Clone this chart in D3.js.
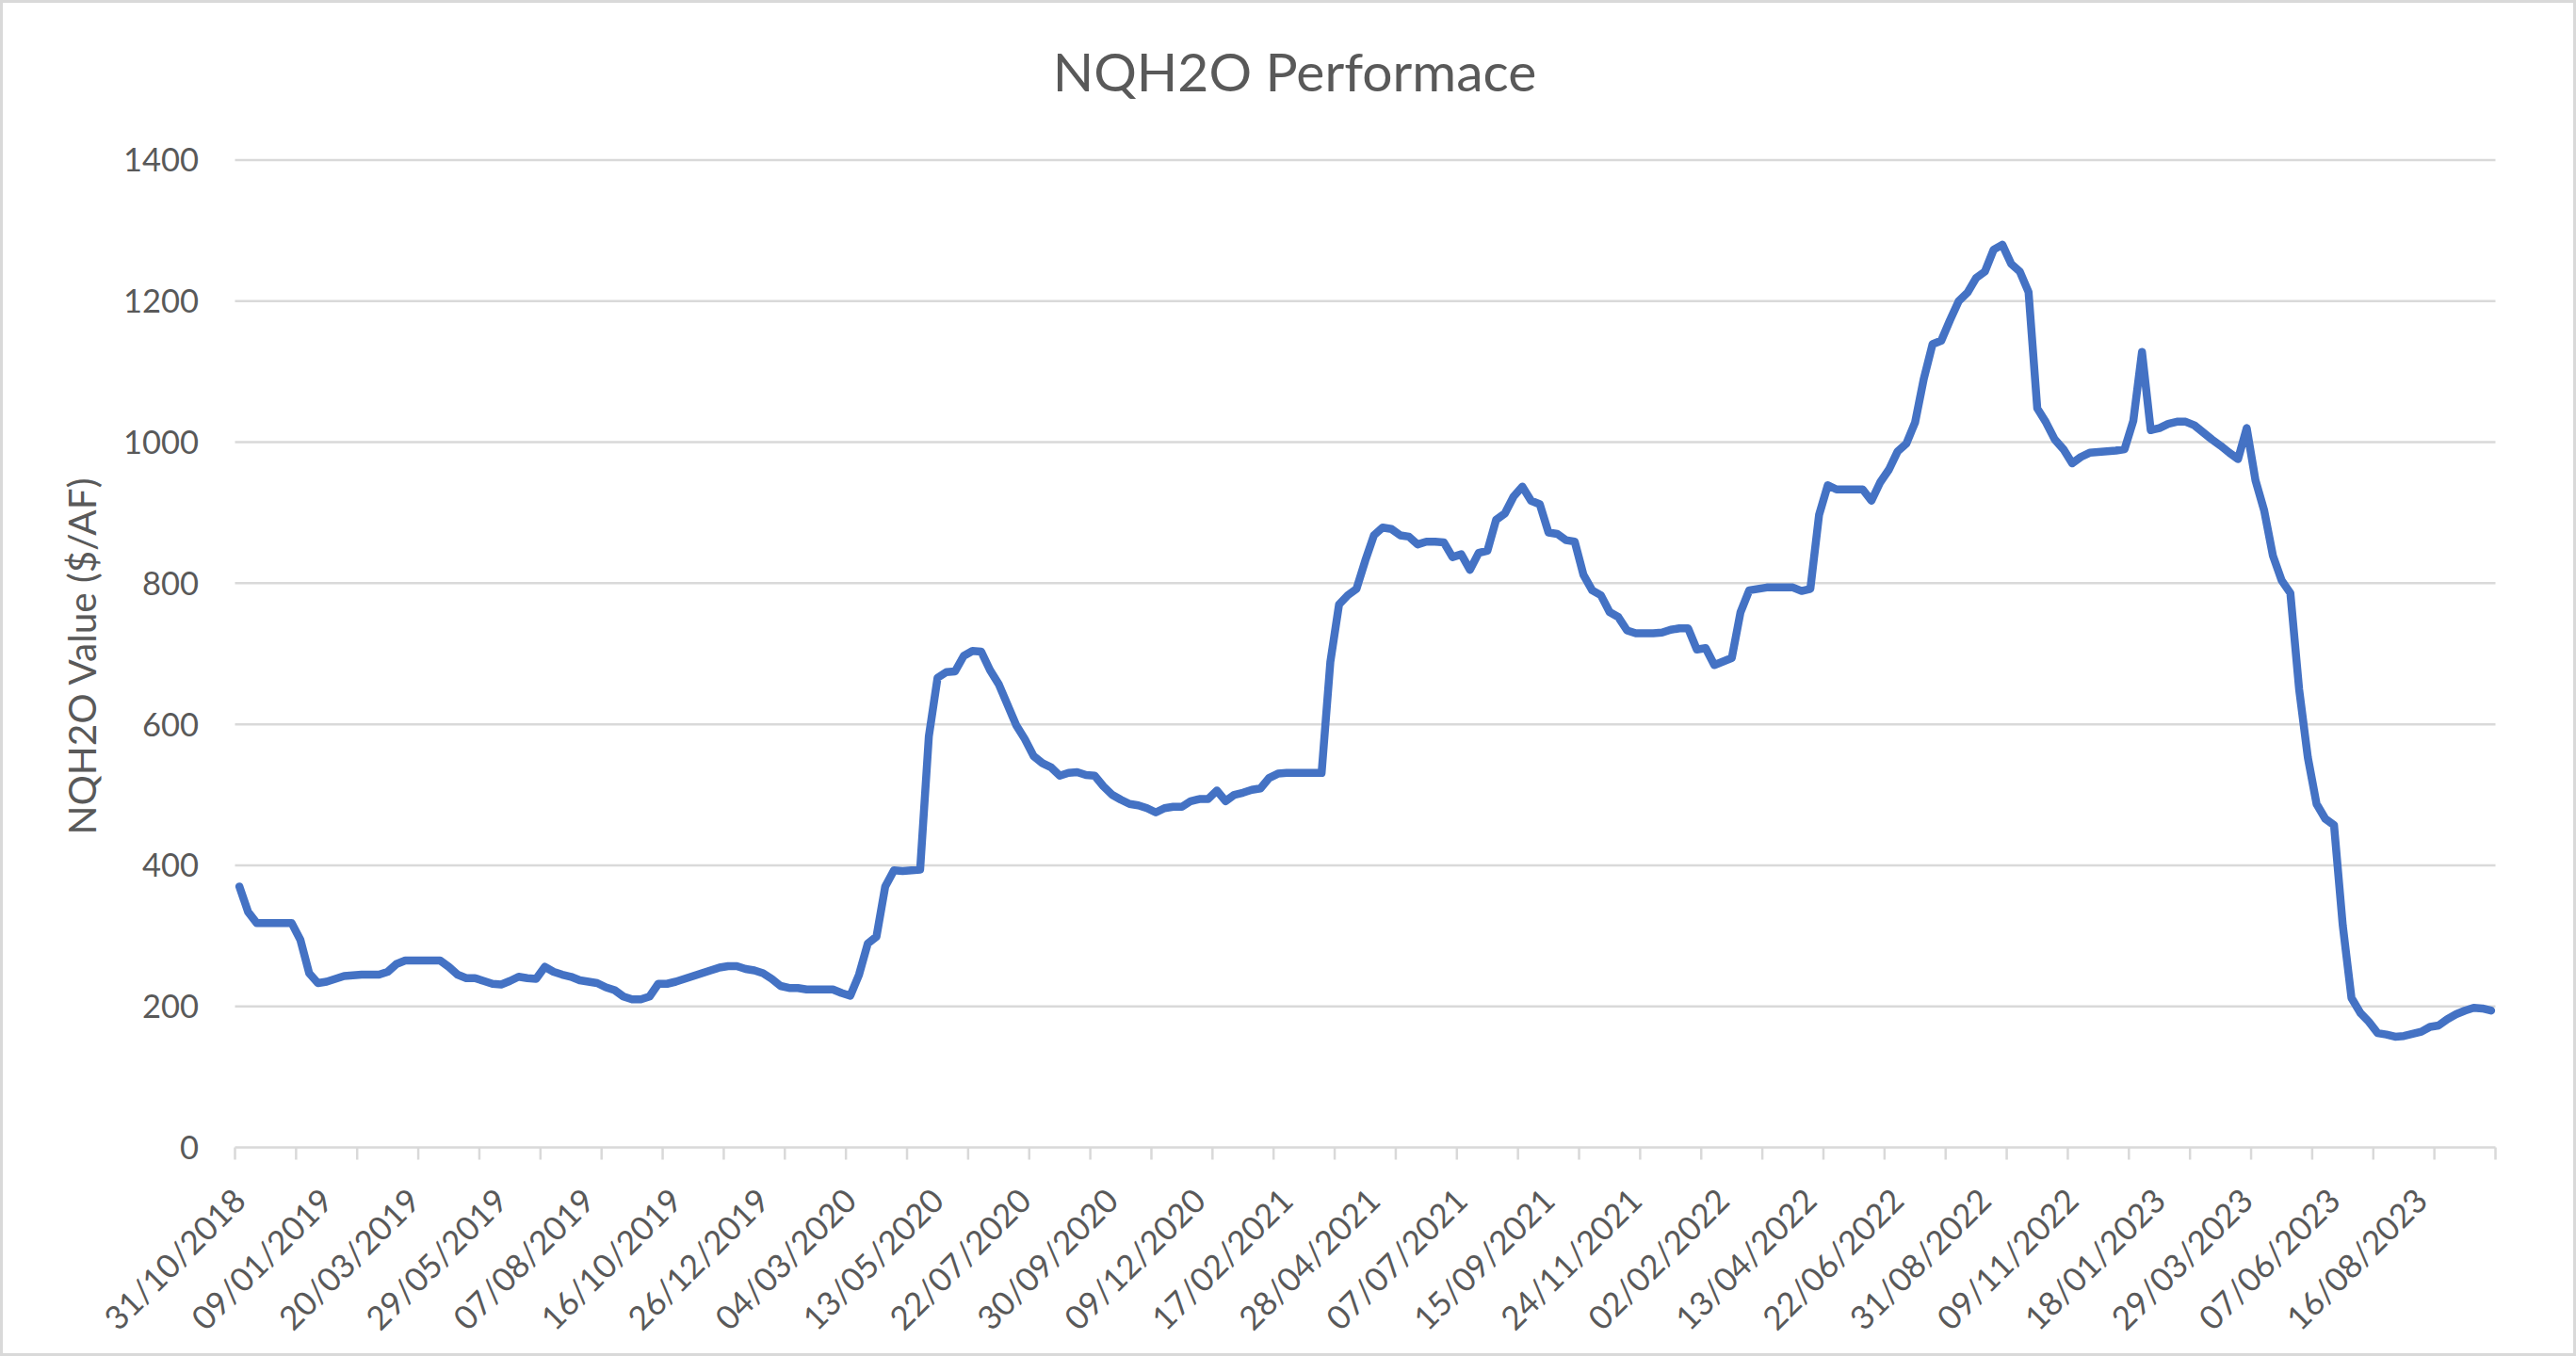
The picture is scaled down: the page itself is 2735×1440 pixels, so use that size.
<!DOCTYPE html>
<html>
<head>
<meta charset="utf-8">
<script src="https://cdn.jsdelivr.net/npm/d3@7"></script>
<style>
  html, body { margin: 0; padding: 0; background: #ffffff; }
  svg { display: block; }
  text { font-family: Lato, "Open Sans", "Noto Sans", sans-serif; fill: #595959; }
</style>
</head>
<body>
<script>
// ---------------- data ----------------
const chartTitle = "NQH2O Performace";
const yAxisTitle = "NQH2O Value ($/AF)";

// weekly NQH2O index values, 31/10/2018 .. 11/10/2023 (259 weekly categories)
const values = [
  370, 334, 318, 318, 318, 318, 318, 294, 247, 233,
  235, 239, 243, 244, 245, 245, 245, 249, 260, 265,
  265, 265, 265, 265, 256, 245, 240, 240, 236, 232,
  231, 236, 242, 240, 239, 256, 249, 245, 242, 237,
  235, 233, 227, 223, 214, 210, 210, 214, 232, 232,
  235, 239, 243, 247, 251, 255, 257, 257, 253, 251,
  247, 239, 229, 226, 226, 224, 224, 224, 224, 219,
  215, 245, 289, 299, 370, 393, 392, 393, 394, 583,
  666, 674, 675, 697, 704, 703, 677, 657, 628, 599,
  579, 555, 545, 539, 527, 531, 532, 528, 527, 512,
  500, 493, 487, 485, 481, 475, 481, 483, 483, 491,
  494, 494, 506, 491, 500, 503, 507, 509, 524, 530,
  531, 531, 531, 531, 531, 688, 770, 783, 792, 832,
  868, 879, 877, 868, 866, 855, 859, 859, 858, 837,
  841, 819, 843, 846, 890, 899, 923, 937, 917, 912,
  872, 870, 861, 859, 812, 790, 783, 759, 752, 733,
  729, 729, 729, 730, 734, 736, 736, 706, 708, 684,
  689, 694, 759, 790, 792, 794, 794, 794, 794, 789,
  792, 897, 939, 933, 933, 933, 933, 917, 943, 961,
  987, 998, 1028, 1090, 1139, 1144, 1173, 1200, 1212, 1233,
  1242, 1273, 1280, 1253, 1242, 1213, 1048, 1028, 1004, 990,
  970, 979, 985, 986, 987, 988, 990, 1030, 1128, 1017,
  1020, 1026, 1029, 1029, 1024, 1014, 1004, 995, 985, 976,
  1020, 946, 903, 839, 804, 786, 650, 553, 487, 466,
  457, 315, 212, 191, 178, 162, 160, 157, 158, 161,
  164, 171, 173, 182, 189, 194, 198, 197, 194
];

// category labels shown on the axis (every 10th weekly category)
const tickLabels = [
  "31/10/2018", "09/01/2019", "20/03/2019", "29/05/2019", "07/08/2019",
  "16/10/2019", "26/12/2019", "04/03/2020", "13/05/2020", "22/07/2020",
  "30/09/2020", "09/12/2020", "17/02/2021", "28/04/2021", "07/07/2021",
  "15/09/2021", "24/11/2021", "02/02/2022", "13/04/2022", "22/06/2022",
  "31/08/2022", "09/11/2022", "18/01/2023", "29/03/2023", "07/06/2023",
  "16/08/2023"
];
const labelEvery = 10;   // a label every 10 categories
const tickEvery = 7;     // a tick mark every 7 categories

const yTicks = [0, 200, 400, 600, 800, 1000, 1200, 1400];

// ---------------- layout ----------------
const W = 2735, H = 1440;
const plot = { left: 249.5, right: 2649.5, top: 170, bottom: 1218.5 };

const svg = d3.select("body").append("svg")
  .attr("width", W).attr("height", H);

svg.append("rect")
  .attr("x", 1.5).attr("y", 1.5)
  .attr("width", W - 3).attr("height", H - 3)
  .attr("fill", "#ffffff")
  .attr("stroke", "#d9d9d9").attr("stroke-width", 3);

const x = d3.scaleBand()
  .domain(d3.range(values.length))
  .range([plot.left, plot.right])
  .paddingInner(0).paddingOuter(0);

const y = d3.scaleLinear()
  .domain([0, 1400])
  .range([plot.bottom, plot.top]);

const cx = i => x(i) + x.bandwidth() / 2;

// gridlines
svg.append("g").selectAll("line")
  .data(yTicks)
  .join("line")
  .attr("x1", plot.left).attr("x2", plot.right)
  .attr("y1", d => y(d)).attr("y2", d => y(d))
  .attr("stroke", "#d9d9d9").attr("stroke-width", 2.5);

// y tick labels
svg.append("g").selectAll("text")
  .data(yTicks)
  .join("text")
  .attr("x", 211).attr("y", d => y(d))
  .attr("dy", "0.36em")
  .attr("text-anchor", "end")
  .attr("font-size", 34.5)
  .text(d => d);

// x tick marks (category boundaries every 7 categories)
const tickIdx = d3.range(0, values.length + 1, tickEvery);
const bx = i => plot.left + i * x.bandwidth();
svg.append("g").selectAll("line")
  .data(tickIdx)
  .join("line")
  .attr("x1", d => bx(d)).attr("x2", d => bx(d))
  .attr("y1", plot.bottom).attr("y2", plot.bottom + 13)
  .attr("stroke", "#d9d9d9").attr("stroke-width", 2.5);

// x labels, rotated -45
svg.append("g").selectAll("text")
  .data(tickLabels)
  .join("text")
  .attr("transform", (d, k) => `translate(${cx(k * labelEvery)},${plot.bottom + 50}) rotate(-45)`)
  .attr("dy", "0.36em")
  .attr("text-anchor", "end")
  .attr("font-size", 35)
  .text(d => d);

// series line
const line = d3.line()
  .x((d, i) => cx(i))
  .y(d => y(d));

svg.append("path")
  .datum(values)
  .attr("d", line)
  .attr("fill", "none")
  .attr("stroke", "#4472c4")
  .attr("stroke-width", 8.5)
  .attr("stroke-linejoin", "round")
  .attr("stroke-linecap", "round");

// title
svg.append("text")
  .attr("x", 1374.5).attr("y", 97)
  .attr("text-anchor", "middle")
  .attr("font-size", 57)
  .text(chartTitle);

// y axis title
svg.append("text")
  .attr("transform", `translate(101.5,697) rotate(-90)`)
  .attr("text-anchor", "middle")
  .attr("font-size", 40.5)
  .text(yAxisTitle);
</script>
</body>
</html>
